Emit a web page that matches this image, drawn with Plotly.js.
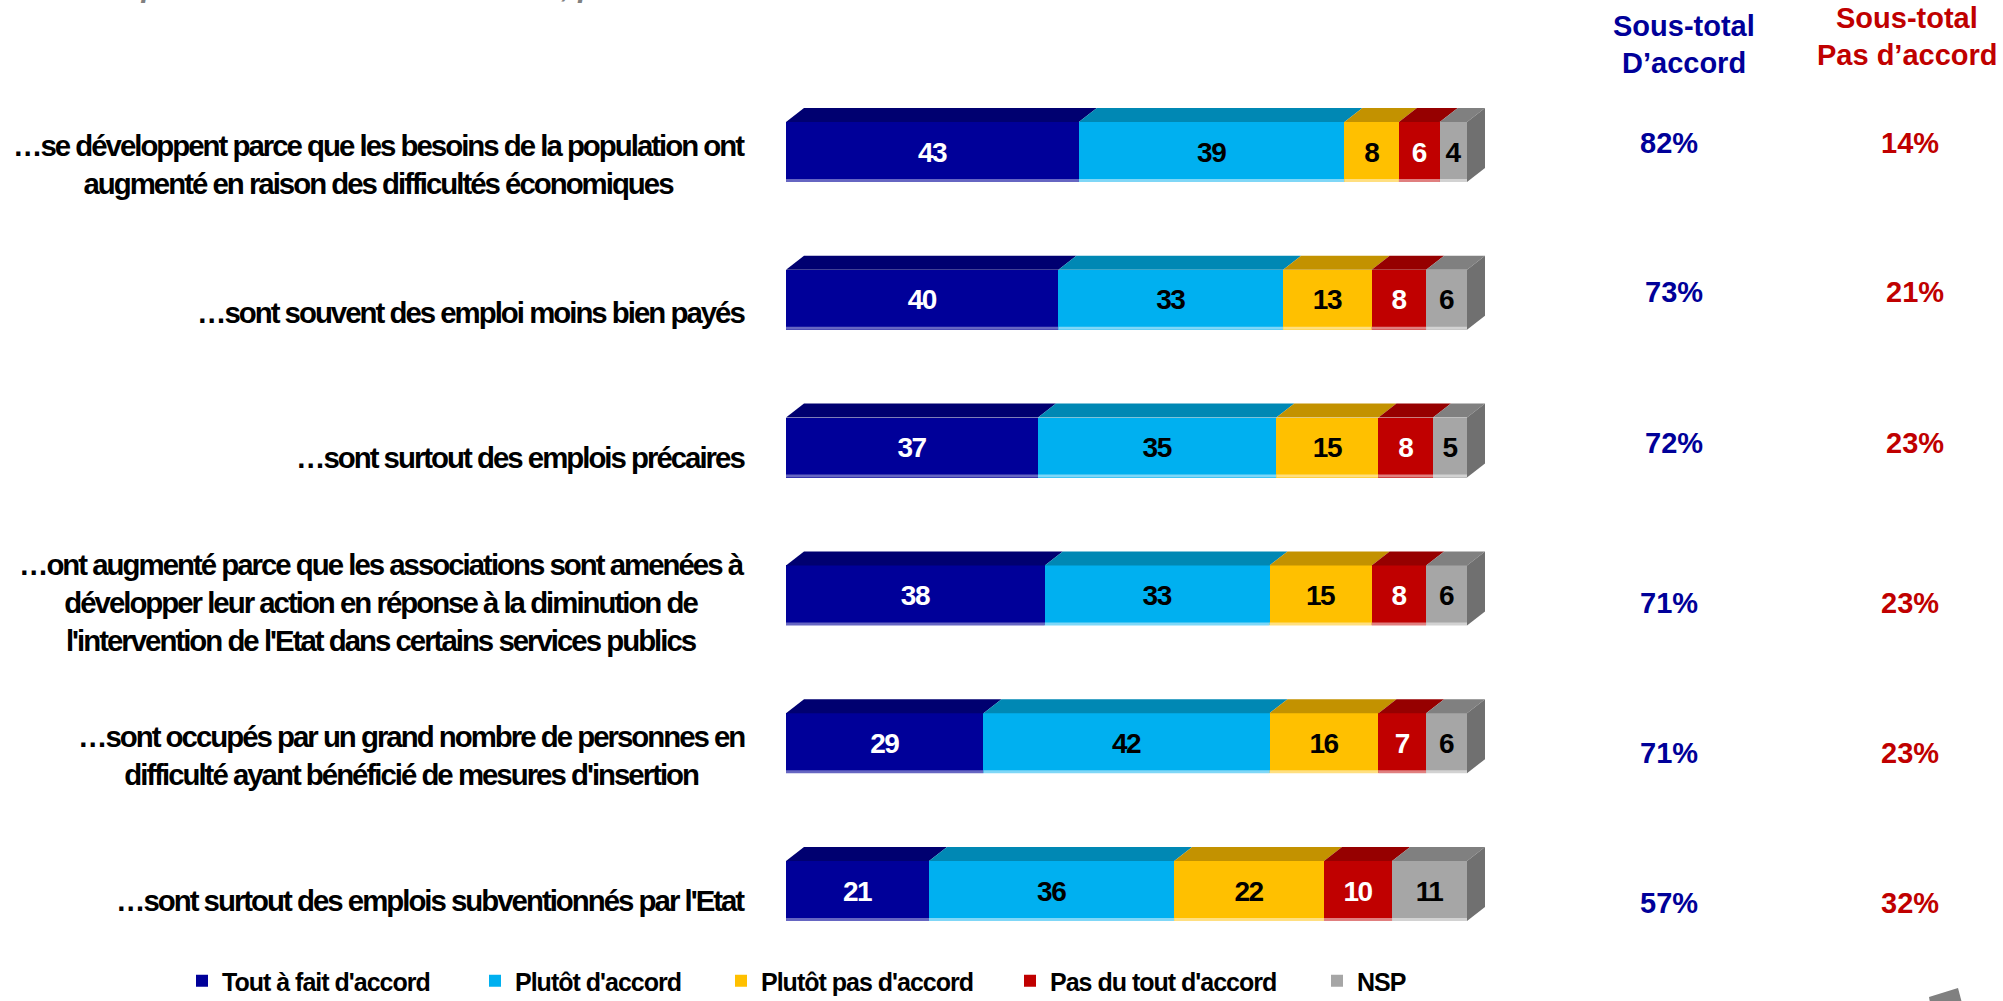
<!DOCTYPE html>
<html><head><meta charset="utf-8">
<script src="https://cdn.plot.ly/plotly-3.0.1.min.js"></script>
<style>
html,body{margin:0;padding:0;background:#fff;overflow:hidden;}
#chart{width:2003px;height:1001px;}
/* condensed look of the original (Arial Narrow); selectors by font size so that
   Plotly's own text measurement sees the same spacing */
text[style*="font-size: 29.4px"] { letter-spacing: -2px; }
text[style*="font-size: 25px"] { letter-spacing: -1px; }
text[style*="font-size: 28px"] { letter-spacing: -1.5px; }
</style>
</head><body><div id="chart"></div>
<script>
// ---------------- DATA ----------------
const categories = [
  "…se développent parce que les besoins de la population ont<br>augmenté en raison des difficultés économiques",
  "…sont souvent des emploi moins bien payés",
  "…sont surtout des emplois précaires",
  "…ont augmenté parce que les associations sont amenées à<br>développer leur action en réponse à la diminution de<br>l'intervention de l'Etat dans certains services publics",
  "…sont occupés par un grand nombre de personnes en<br>difficulté ayant bénéficié de mesures d'insertion",
  "…sont surtout des emplois subventionnés par l'Etat"
];
const seriesNames = ["Tout à fait d'accord", "Plutôt d'accord", "Plutôt pas d'accord", "Pas du tout d'accord", "NSP"];
const toutAFaitDaccord = [43, 40, 37, 38, 29, 21];
const plutotDaccord    = [39, 33, 35, 33, 42, 36];
const plutotPasDaccord = [8, 13, 15, 15, 16, 22];
const pasDuToutDaccord = [6, 8, 8, 8, 7, 10];
const nsp              = [4, 6, 5, 6, 6, 11];
const sousTotalDaccord    = [82, 73, 72, 71, 71, 57];
const sousTotalPasDaccord = [14, 21, 23, 23, 23, 32];
const headerDaccord    = ["Sous-total", "D’accord"];
const headerPasDaccord = ["Sous-total", "Pas d’accord"];
const titleText = "Les emplois associatifs : Selon vous, plutôt…";

// ---------------- STYLE / GEOMETRY ----------------
const W = 2003, H = 1001;
const X0 = 786, PXU = 6.81;          // bar start pixel, pixels per percent
const ROW0 = 152, ROWSTEP = 147.8;   // first row centre, row spacing (px)
const FRONT = 60, DX = 18, DY = 14;  // front face height, 3D depth
const XMAX = 104;
const frontColors = ["#000099", "#00B0F0", "#FFC000", "#C00000", "#A6A6A6"];
const topColors   = ["#000070", "#0088B4", "#C39200", "#960000", "#808080"];
const stripColors = ["#6666C2", "#7FD7F7", "#FFDF80", "#E07F7F", "#D2D2D2"];
const sideColor = "#707070";
const textColors  = ["#FFFFFF", "#000000", "#000000", "#FFFFFF", "#000000"];
const FONT = '"Liberation Sans", Arial, sans-serif';
const blue = "#000099", red = "#C00000";
const legendLeftPx = [182, 475, 721, 1010, 1317];
const labelShiftPx = [-12, -13, -10, -7, -12.5, -9];
const valueShiftPx = [9.5, 7.5, 5, -7.5, -9.5, -11.5];
const valueLeftPx  = [1669, 1674, 1674, 1669, 1669, 1669];
const valueRightPx = [1910, 1915, 1915, 1910, 1910, 1910];

const series = [toutAFaitDaccord, plutotDaccord, plutotPasDaccord, pasDuToutDaccord, nsp];
const rowIdx = categories.map((_, i) => i);
const barW = FRONT / ROWSTEP;
const dxD = DX / PXU, dyD = DY / ROWSTEP, stripD = 3 / ROWSTEP;

const traces = series.map((vals, k) => ({
  type: "bar", orientation: "h",
  name: seriesNames[k], x: vals, y: rowIdx, width: barW,
  marker: { color: frontColors[k], line: { width: 0 } },
  text: vals.map(String), textposition: "inside", insidetextanchor: "middle",
  textangle: 0, constraintext: "none",
  textfont: { family: FONT, size: 28, weight: "bold", color: textColors[k] },
  hoverinfo: "skip",
  legend: k === 0 ? "legend" : "legend" + (k + 1)
}));

// 3D faces built from the cumulative data values
const shapes = [];
rowIdx.forEach(i => {
  let cum = 0;
  const yTop = i - barW / 2, yBot = i + barW / 2;
  series.forEach((vals, k) => {
    const x0 = cum, x1 = cum + vals[i];
    cum = x1;
    shapes.push({
      type: "path", xref: "x", yref: "y", layer: "above",
      path: `M${x0},${yTop} L${x0 + dxD},${yTop - dyD} L${x1 + dxD},${yTop - dyD} L${x1},${yTop} Z`,
      fillcolor: topColors[k], line: { width: 0 }
    });
    shapes.push({
      type: "rect", xref: "x", yref: "y", layer: "above",
      x0: x0, x1: x1, y0: yBot - stripD, y1: yBot,
      fillcolor: stripColors[k], line: { width: 0 }
    });
  });
  shapes.push({
    type: "path", xref: "x", yref: "y", layer: "above",
    path: `M${cum},${yTop} L${cum + dxD},${yTop - dyD} L${cum + dxD},${yBot - dyD} L${cum},${yBot} Z`,
    fillcolor: sideColor, line: { width: 0 }
  });
});
// decorative corner mark (bottom right)
const px = (x) => x / W, py = (y) => 1 - y / H;
shapes.push({
  type: "path", xref: "paper", yref: "paper", layer: "above",
  path: `M${px(1929)},${py(997)} L${px(1958)},${py(988)} L${px(1962)},${py(1003)} L${px(1930)},${py(1003)} Z`,
  fillcolor: "#808080", line: { width: 0 }
});

const annotations = [];
categories.forEach((c, i) => annotations.push({
  text: c, xref: "paper", yref: "y", x: px(747), y: i, yshift: labelShiftPx[i],
  xanchor: "right", yanchor: "middle", align: "center", showarrow: false,
  font: { family: FONT, size: 29.4, weight: "bold", color: "#000" }
}));
sousTotalDaccord.forEach((v, i) => annotations.push({
  text: v + "%", xref: "paper", yref: "y", x: px(valueLeftPx[i]), y: i, yshift: valueShiftPx[i],
  xanchor: "center", yanchor: "middle", showarrow: false,
  font: { family: FONT, size: 29, weight: "bold", color: blue }
}));
sousTotalPasDaccord.forEach((v, i) => annotations.push({
  text: v + "%", xref: "paper", yref: "y", x: px(valueRightPx[i]), y: i, yshift: valueShiftPx[i],
  xanchor: "center", yanchor: "middle", showarrow: false,
  font: { family: FONT, size: 29, weight: "bold", color: red }
}));
const headerY1 = [26, 63], headerY2 = [18, 55];
headerDaccord.forEach((t, j) => annotations.push({
  text: t, xref: "paper", yref: "paper", x: px(1684), y: py(headerY1[j]),
  xanchor: "center", yanchor: "middle", showarrow: false,
  font: { family: FONT, size: 29, weight: "bold", color: blue }
}));
headerPasDaccord.forEach((t, j) => annotations.push({
  text: t, xref: "paper", yref: "paper", x: px(1907), y: py(headerY2[j]),
  xanchor: "center", yanchor: "middle", showarrow: false,
  font: { family: FONT, size: 29, weight: "bold", color: red }
}));
annotations.push({
  text: titleText, xref: "paper", yref: "paper", x: px(36), y: py(5),
  xanchor: "left", yanchor: "bottom", showarrow: false,
  font: { family: FONT, size: 30, weight: "bold", style: "italic", color: "#808080" }
});

const layout = {
  width: W, height: H,
  margin: { l: 0, r: 0, t: 0, b: 0, pad: 0, autoexpand: false },
  paper_bgcolor: "#fff", plot_bgcolor: "rgba(0,0,0,0)",
  barmode: "stack", bargap: 0,
  xaxis: { domain: [px(X0), (X0 + XMAX * PXU) / W], range: [0, XMAX], visible: false, fixedrange: true },
  yaxis: { domain: [0, 1], range: [(H - ROW0) / ROWSTEP, -ROW0 / ROWSTEP], visible: false, fixedrange: true },
  shapes: shapes, annotations: annotations,
  showlegend: true
};
legendLeftPx.forEach((l, k) => {
  layout[k === 0 ? "legend" : "legend" + (k + 1)] = {
    xref: "container", yref: "container",
    x: px(l), y: py(981), xanchor: "left", yanchor: "middle", orientation: "h",
    bgcolor: "rgba(0,0,0,0)", borderwidth: 0, itemclick: false, itemdoubleclick: false,
    font: { family: FONT, size: 25, weight: "bold", color: "#000" }
  };
});

Plotly.newPlot("chart", traces, layout, { staticPlot: true, displayModeBar: false });
</script>
</body></html>
